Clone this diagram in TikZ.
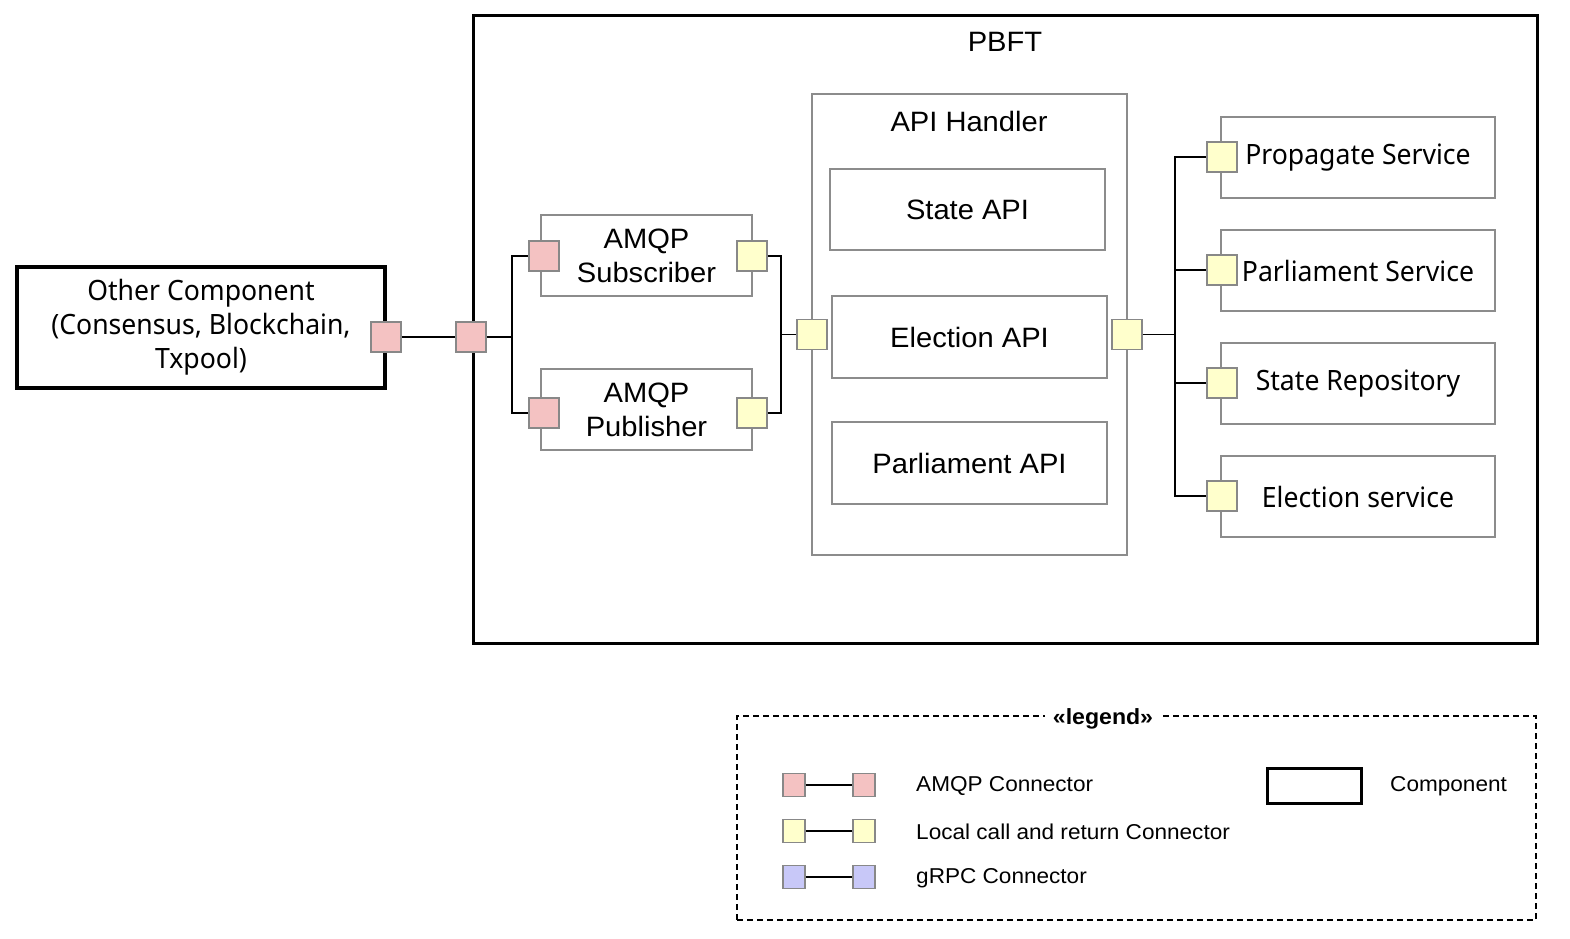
\documentclass[tikz,border=0pt]{standalone}
\usepackage{fontspec}
\setmainfont{Liberation Sans}[FakeStretch=1.04]
\newfontfamily\notof{Noto Sans}[FakeStretch=0.95]
\newfontfamily\legf{Liberation Sans}[FakeStretch=1.05]
\definecolor{pinkc}{RGB}{244,194,194}
\definecolor{yelc}{RGB}{255,255,204}
\definecolor{bluec}{RGB}{200,200,248}
\definecolor{portg}{RGB}{136,136,136}
\definecolor{boxg}{RGB}{140,140,140}
\tikzset{
  comp/.style={draw=black, line width=3pt, rectangle, inner sep=0pt},
  subbox/.style={draw=boxg, line width=2pt, rectangle, inner sep=0pt, minimum width=#1},
  port/.style={draw=portg, line width=1.8pt, rectangle, inner sep=0pt, minimum width=30pt, minimum height=30pt},
  amqp/.style={port, fill=pinkc},
  lcr/.style={port, fill=yelc},
  lport/.style={draw=portg, line width=1.5pt, rectangle, inner sep=0pt, minimum width=22pt, minimum height=23pt},
  wire/.style={draw=black, line width=1.8pt},
  lab/.style={font=\fontsize{28}{34}\selectfont, align=center},
  nlab/.style={font=\notof\fontsize{28}{34}\selectfont, align=center},
  leg/.style={font=\legf\fontsize{21.5}{24}\selectfont, anchor=west, inner sep=0pt},
}
\begin{document}
\begin{tikzpicture}[x=1pt,y=-1pt]
\useasboundingbox (0,0) rectangle (1570,938);
% outer boxes
\node[comp, minimum width=1064pt, minimum height=628pt] (pbft) at (1005,329) {};
\node[lab] (pbftt) at (1005,42) {PBFT};
\node[comp, line width=3.5pt, minimum width=368pt, minimum height=121pt, nlab] (oc) at (201,327.5) {Other Component\\(Consensus, Blockchain,\\Txpool)};
% AMQP boxes
\node[subbox=211pt, minimum height=81pt, lab] (sub) at (646.5,255.5) {AMQP\\Subscriber};
\node[subbox=211pt, minimum height=81pt, lab] (pub) at (646.5,409.5) {AMQP\\Publisher};
% API handler
\node[subbox=315pt, minimum height=461pt] (api) at (969.5,324.5) {};
\node[lab] (apit) at (969,121) {API Handler};
\node[subbox=275pt, minimum height=81pt, lab] (stapi) at (967.5,209.5) {State API};
\node[subbox=275pt, minimum height=82pt, lab] (elapi) at (969.5,337) {Election API};
\node[subbox=275pt, minimum height=82pt, lab] (paapi) at (969.5,463) {Parliament API};
% services
\node[subbox=274pt, minimum height=81pt, nlab] (s1) at (1358,157.5) {Propagate Service};
\node[subbox=274pt, minimum height=81pt, nlab] (s2) at (1358,270.5) {Parliament Service};
\node[subbox=274pt, minimum height=81pt, nlab] (s3) at (1358,383.5) {State Repository};
\node[subbox=274pt, minimum height=81pt, nlab] (s4) at (1358,496.5) {Election service};
% ports
\node[amqp] (poc) at (386,337) {};
\node[amqp] (ppb) at (471,337) {};
\node[amqp] (ps1) at (544,256) {};
\node[lcr] (ps2) at (752,256) {};
\node[amqp] (pp1) at (544,413) {};
\node[lcr] (pp2) at (752,413) {};
\node[lcr] (pal) at (812,334.5) {};
\node[lcr] (par) at (1127,334.5) {};
\node[lcr] (q1) at (1222,157) {};
\node[lcr] (q2) at (1222,270) {};
\node[lcr] (q3) at (1222,383) {};
\node[lcr] (q4) at (1222,496) {};
% junctions
\coordinate (j1) at (512,337);
\coordinate (j2) at (781,334.5);
\coordinate (j3) at (1175,334.5);
% wires
\draw[wire] (poc.east) -- (ppb.west);
\draw[wire] (ppb.east) -- (j1);
\draw[wire] (j1) |- (ps1.west);
\draw[wire] (j1) |- (pp1.west);
\draw[wire] (ps2.east) -| (j2);
\draw[wire] (pp2.east) -| (j2);
\draw[wire] (j2) -- (pal.west);
\draw[wire] (par.east) -- (j3);
\draw[wire] (j3) |- (q1.west);
\draw[wire] (j3) |- (q2.west);
\draw[wire] (j3) |- (q3.west);
\draw[wire] (j3) |- (q4.west);
% legend
\node[draw=black, line width=1.8pt, dash pattern=on 6pt off 4pt, minimum width=799pt, minimum height=204pt, inner sep=0pt] (legbox) at (1136.5,818) {};
\node[fill=white, inner xsep=8pt, inner ysep=2pt, font=\legf\bfseries\fontsize{22}{24}\selectfont] (legt) at (1103,719) {«legend»};
\node[lport, fill=pinkc] (la1) at (794,785) {};
\node[lport, fill=pinkc] (la2) at (864,785) {};
\node[lport, fill=yelc] (lb1) at (794,831) {};
\node[lport, fill=yelc] (lb2) at (864,831) {};
\node[lport, fill=bluec] (lc1) at (794,877) {};
\node[lport, fill=bluec] (lc2) at (864,877) {};
\draw[wire] (la1.east) -- (la2.west);
\draw[wire] (lb1.east) -- (lb2.west);
\draw[wire] (lc1.east) -- (lc2.west);
\node[leg] (lta) at (916,786) {AMQP Connector};
\node[leg] (ltb) at (916,832) {Local call and return Connector};
\node[leg] (ltc) at (916,878) {gRPC Connector};
\node[comp, minimum width=94pt, minimum height=35pt] (lcomp) at (1314,785.5) {};
\node[leg] (ltd) at (1390,786) {Component};
\end{tikzpicture}
\end{document}
